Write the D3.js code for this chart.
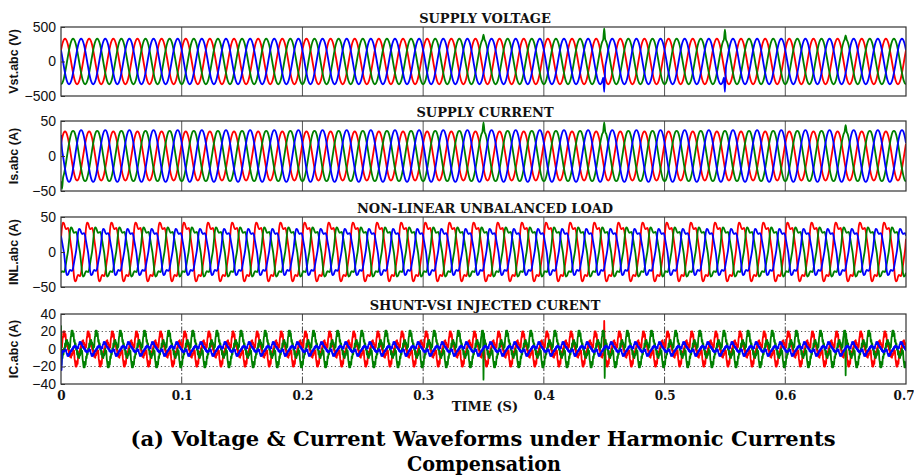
<!DOCTYPE html>
<html>
<head>
<meta charset="utf-8">
<script src="https://cdn.jsdelivr.net/npm/d3@7"></script>
<style>
  html, body { margin: 0; padding: 0; background: #fff; }
  svg { display: block; }
</style>
</head>
<body>
<svg id="chart" width="914" height="476"></svg>
<script>
// ---- time base ----
const fundamentalHz = 50;
const endTime = 0.7;
const timeTicks = [0, 0.1, 0.2, 0.3, 0.4, 0.5, 0.6, 0.7];
const phases = ["a", "b", "c"];
const phaseColors = ["#ff0000", "#008000", "#0000ff"];

// ---- supply voltage: one fundamental cycle of phase a (per unit), 24 samples ----
const supplyVoltageCycle = [0.5, 0.71, 0.87, 0.97, 1, 0.97, 0.87, 0.71, 0.5, 0.26, 0, -0.26,
  -0.5, -0.71, -0.87, -0.97, -1, -0.97, -0.87, -0.71, -0.5, -0.26, 0, 0.26];
const supplyVoltagePeak = [330, 330, 330];
const supplyVoltageEvents = [
  { phase: "b", t: 0.35, v: 390 },
  { phase: "b", t: 0.45, v: 480 },
  { phase: "c", t: 0.45, v: -440 },
  { phase: "b", t: 0.55, v: 460 },
  { phase: "c", t: 0.55, v: -440 },
  { phase: "b", t: 0.65, v: 380 }
];
const supplyVoltageTicks = [-500, 0, 500];

// ---- supply current ----
const supplyCurrentCycle = [0.5, 0.71, 0.87, 0.97, 1, 0.97, 0.87, 0.71, 0.5, 0.26, 0, -0.26,
  -0.5, -0.71, -0.87, -0.97, -1, -0.97, -0.87, -0.71, -0.5, -0.26, 0, 0.26];
const supplyCurrentPeak = [35, 36, 37];
const supplyCurrentEvents = [
  { phase: "c", t: 0, v: 30 },
  { phase: "b", t: 0.0008, v: -47 },
  { phase: "b", t: 0.35, v: 48 },
  { phase: "b", t: 0.45, v: 48 },
  { phase: "b", t: 0.65, v: 44 }
];
const supplyCurrentTicks = [-50, 0, 50];

// ---- non-linear unbalanced load current ----
const loadCurrentCycle = [0.45, 0.85, 1.0, 0.97, 0.85, 0.78, 0.8, 0.82, 0.7, 0.45, 0.2, -0.05,
  -0.45, -0.85, -1.0, -0.97, -0.85, -0.78, -0.8, -0.82, -0.7, -0.45, -0.2, 0.05];
const loadCurrentPeak = [42, 35, 33];
const loadCurrentEvents = [];
const loadCurrentTicks = [-50, 0, 50];

// ---- shunt VSI injected current: 48 samples per cycle (switching ripple) ----
const injectedCurrentCycle = [0.0, 0.25, 0.1, 0.55, 0.75, 1.0, 0.7, 1.0, 0.75, 0.85, 0.4, 0.5,
  0.15, 0.3, -0.05, 0.1, -0.3, -0.1, -0.45, -0.25, -0.5, -0.3, -0.35, -0.15,
  0.0, -0.25, -0.1, -0.55, -0.75, -1.0, -0.7, -1.0, -0.75, -0.85, -0.4, -0.5,
  -0.15, -0.3, 0.05, -0.1, 0.3, 0.1, 0.45, 0.25, 0.5, 0.3, 0.35, 0.15];
const injectedCurrentPeak = [20, 21, 8];
const injectedCurrentEvents = [
  { phase: "b", t: 0, v: 27 },
  { phase: "c", t: 0.0006, v: -24 },
  { phase: "b", t: 0.35, v: -35 },
  { phase: "a", t: 0.45, v: 32 },
  { phase: "b", t: 0.4504, v: -33 },
  { phase: "b", t: 0.65, v: -30 }
];
const injectedCurrentTicks = [-40, -20, 0, 20, 40];

// ---- panel definitions ----
const panels = [
  { title: "SUPPLY VOLTAGE", ylabel: "Vst.abc (V)", domain: [-500, 500], ticks: supplyVoltageTicks,
    cycle: supplyVoltageCycle, peak: supplyVoltagePeak, events: supplyVoltageEvents, top: 27, bottom: 96, grid: false },
  { title: "SUPPLY CURRENT", ylabel: "Is.abc (A)", domain: [-50, 50], ticks: supplyCurrentTicks,
    cycle: supplyCurrentCycle, peak: supplyCurrentPeak, events: supplyCurrentEvents, top: 121, bottom: 191, grid: false },
  { title: "NON-LINEAR UNBALANCED LOAD", ylabel: "INL.abc (A)", domain: [-50, 50], ticks: loadCurrentTicks,
    cycle: loadCurrentCycle, peak: loadCurrentPeak, events: loadCurrentEvents, top: 217, bottom: 287, grid: false },
  { title: "SHUNT-VSI INJECTED CURENT", ylabel: "IC.abc (A)", domain: [-40, 40], ticks: injectedCurrentTicks,
    cycle: injectedCurrentCycle, peak: injectedCurrentPeak, events: injectedCurrentEvents, top: 314, bottom: 384, grid: true }
];

const left = 61, right = 906;
const svg = d3.select("#chart");
const x = d3.scaleLinear().domain([0, endTime]).range([left, right]);

// expand one stored cycle over the whole record, shifting each phase by a third of a cycle
function buildSeries(cycle, peaks, events) {
  const n = cycle.length;
  const total = Math.round(endTime * fundamentalHz * n);
  return phases.map((ph, p) => {
    const shift = p * n / 3;
    const pts = d3.range(total + 1).map(k => ({
      t: k / (fundamentalHz * n),
      v: peaks[p] * cycle[(((k - shift) % n) + n) % n]
    }));
    events.filter(e => e.phase === ph).forEach(e => {
      const k = Math.round(e.t * fundamentalHz * n);
      pts[k].v = e.v;
    });
    return pts;
  });
}

const serifBold = "'DejaVu Serif', serif";
const sans = "'Liberation Sans', Arial, sans-serif";

panels.forEach((pn, i) => {
  const y = d3.scaleLinear().domain(pn.domain).range([pn.bottom, pn.top]);
  const g = svg.append("g");

  // vertical lines at time ticks
  const inner = timeTicks.filter(t => t > 0 && t < endTime);
  g.selectAll("line.vgrid").data(inner).join("line")
    .attr("x1", d => x(d)).attr("x2", d => x(d))
    .attr("y1", pn.top).attr("y2", pn.bottom)
    .attr("stroke", pn.grid ? "#444" : "#555")
    .attr("stroke-width", 1)
    .attr("stroke-dasharray", pn.grid ? "7,2,1.5,2" : null);

  if (pn.grid) {
    const hg = pn.ticks.filter(v => v > pn.domain[0] && v < pn.domain[1] && v !== 0);
    g.selectAll("line.hgrid").data(hg).join("line")
      .attr("x1", left).attr("x2", right)
      .attr("y1", d => y(d)).attr("y2", d => y(d))
      .attr("stroke", "#555").attr("stroke-width", 1)
      .attr("stroke-dasharray", "1.2,2.5");
  }

  const clipId = "clip" + i;
  svg.append("clipPath").attr("id", clipId).append("rect")
    .attr("x", left).attr("y", pn.top).attr("width", right - left).attr("height", pn.bottom - pn.top);

  const series = buildSeries(pn.cycle, pn.peak, pn.events);
  const line = d3.line().x(d => x(d.t)).y(d => y(d.v))
    .curve(pn.grid ? d3.curveLinear : d3.curveMonotoneX);
  g.append("g").attr("clip-path", `url(#${clipId})`)
    .selectAll("path").data(series).join("path")
    .attr("d", line)
    .attr("fill", "none")
    .attr("stroke", (d, j) => phaseColors[j])
    .attr("stroke-width", 1.8)
    .attr("stroke-linejoin", "round");

  // frame
  g.append("rect").attr("x", left).attr("y", pn.top)
    .attr("width", right - left).attr("height", pn.bottom - pn.top)
    .attr("fill", "none").attr("stroke", "#333").attr("stroke-width", 1.2);

  // y axis
  const ya = g.append("g").attr("transform", `translate(${left},0)`)
    .call(d3.axisLeft(y).tickValues(pn.ticks).tickSize(-4).tickPadding(5).tickFormat(d3.format("d")));
  ya.select(".domain").remove();
  ya.selectAll("line").attr("stroke", "#333");
  ya.selectAll("text").attr("font-family", sans).attr("font-size", 14).attr("fill", "#111");

  // y label
  g.append("text")
    .attr("transform", `translate(18,${(pn.top + pn.bottom) / 2}) rotate(-90)`)
    .attr("text-anchor", "middle")
    .attr("font-family", sans).attr("font-weight", "bold").attr("font-size", 12.5)
    .attr("fill", "#111")
    .text(pn.ylabel);

  // title
  g.append("text")
    .attr("x", 485).attr("y", pn.top - 4)
    .attr("text-anchor", "middle")
    .attr("font-family", serifBold).attr("font-weight", "bold").attr("font-size", 13)
    .attr("fill", "#111")
    .text(pn.title);

  if (i === panels.length - 1) {
    const xa = g.append("g").attr("transform", `translate(0,${pn.bottom})`)
      .call(d3.axisBottom(x).tickValues(timeTicks).tickSize(0).tickPadding(7).tickFormat(d => String(d)));
    xa.select(".domain").remove();
    xa.selectAll("text").attr("font-family", serifBold).attr("font-weight", "bold")
      .attr("font-size", 12).attr("fill", "#111");
    // keep the last label inside the page edge
    xa.selectAll("text").filter(d => d === endTime).attr("text-anchor", "end").attr("x", 8);
    g.append("text")
      .attr("x", 485).attr("y", pn.bottom + 27)
      .attr("text-anchor", "middle")
      .attr("font-family", serifBold).attr("font-weight", "bold").attr("font-size", 13)
      .attr("fill", "#111")
      .text("TIME (S)");
  }
});

// caption
svg.append("text").attr("x", 483).attr("y", 446).attr("text-anchor", "middle")
  .attr("font-family", serifBold).attr("font-weight", "bold").attr("font-size", 21).attr("fill", "#000")
  .attr("textLength", 705).attr("lengthAdjust", "spacingAndGlyphs")
  .text("(a) Voltage & Current Waveforms under Harmonic Currents");
svg.append("text").attr("x", 484).attr("y", 471).attr("text-anchor", "middle")
  .attr("font-family", serifBold).attr("font-weight", "bold").attr("font-size", 21).attr("fill", "#000")
  .attr("textLength", 154).attr("lengthAdjust", "spacingAndGlyphs")
  .text("Compensation");
</script>
</body>
</html>
